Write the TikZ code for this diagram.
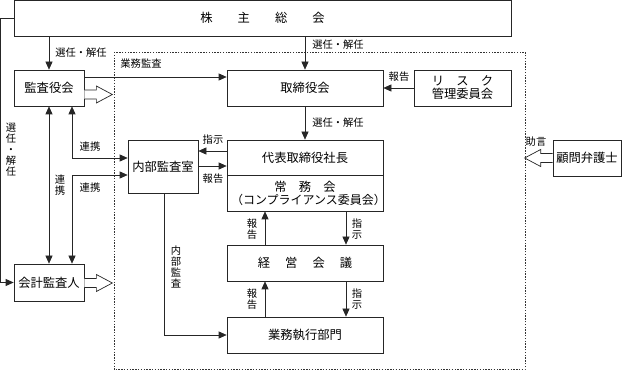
\documentclass[tikz,border=0pt]{standalone}
\usepackage{fontspec}
\setmainfont{Noto Sans CJK JP}
\usetikzlibrary{arrows.meta}
\begin{document}
\begin{tikzpicture}[x=1pt,y=-1pt,
  box/.style={draw=black!85,line width=0.7pt,fill=white,inner sep=0pt,align=center,
    font=\fontsize{12.3}{15}\selectfont},
  lbl/.style={inner sep=0pt,font=\fontsize{10.3}{11}\selectfont,align=center},
  arr/.style={draw=black!85,line width=0.7pt,-{Triangle[length=8pt,width=7pt]}},
  arrtwo/.style={draw=black!85,line width=0.7pt,{Triangle[length=8pt,width=7pt]}-{Triangle[length=8pt,width=7pt]}},
  hollowarrow/.pic={\draw[black!85,line width=0.7pt,fill=white]
     (0,-4.5) -- (12,-4.5) -- (12,-8.5) -- (28,0) -- (12,8.5) -- (12,4.5) -- (0,4.5);}
]
\useasboundingbox (0,0) rectangle (624,371);
% dashed area
\draw[black!80,line width=0.6pt,dash pattern=on 1.4pt off 1.4pt] (114,52) rectangle (525,369.5);

% boxes
\node[box,minimum width=497,minimum height=35.5] (soukai) at (262.5,18.25)
  {株\hspace{25pt}主\hspace{25pt}総\hspace{25pt}会};
\node[box,minimum width=70,minimum height=36] (kansa) at (49,88) {監査役会};
\node[box,minimum width=70,minimum height=37] (kaikei) at (49,282.5) {会計監査人};
\node[box,minimum width=156,minimum height=36] (torishimari) at (305,88) {取締役会};
\node[box,minimum width=97,minimum height=36] (risk) at (462.5,88) {リ　ス　ク\\[-2pt]管理委員会};
\node[box,minimum width=68,minimum height=36] (komon) at (587,158) {顧問弁護士};
\node[box,minimum width=156,minimum height=35] (daihyo) at (305,157.5) {代表取締役社長};
\node[box,minimum width=156,minimum height=36,text width=148pt] (jomu) at (305,193)
  {常　務　会\\[-2pt]{\fontsize{12}{15}\selectfont（コンプライアンス委員会）}};
\node[box,minimum width=70,minimum height=53] (naibu) at (163,166.5) {内部監査室};
\node[box,minimum width=156,minimum height=36] (keiei) at (305,263) {経\hspace{15pt}営\hspace{15pt}会\hspace{15pt}議};
\node[box,minimum width=156,minimum height=36] (gyomu) at (305,335) {業務執行部門};

% connectors
\draw[arr] (soukai.south -| kansa.north) -- (kansa.north);
\draw[arr] (soukai.south -| torishimari.north) -- (torishimari.north);
\draw[arr] (soukai.west) -- ++(-13,0) |- (kaikei.west);
\draw[arr] (kansa.east |- 0,77) -- (torishimari.west |- 0,77);
\draw[arr] (risk.west) -- (torishimari.east |- risk.west);
\draw[arr] (torishimari.south) -- (daihyo.north);
\draw[arr] (daihyo.west |- 0,151) -- (naibu.east |- 0,151);
\draw[arr] (naibu.east |- 0,166) -- (daihyo.west |- 0,166);
\draw[arrtwo] (kansa.south -| 72,0) |- (naibu.west |- 0,158);
\draw[arrtwo] (naibu.west |- 0,175) -| (kaikei.north -| 72,0);
\draw[arrtwo] (kansa.south) -- (kaikei.north);
\draw[arr] (keiei.north -| 265,0) -- (jomu.south -| 265,0);
\draw[arr] (jomu.south -| 346,0) -- (keiei.north -| 346,0);
\draw[arr] (gyomu.north -| 265,0) -- (keiei.south -| 265,0);
\draw[arr] (keiei.south -| 346,0) -- (gyomu.north -| 346,0);
\draw[arr] (naibu.south -| 164,0) |- (gyomu.west);

% hollow arrows
\pic at (kansa.east |- 0,94.5) {hollowarrow};
\pic at (kaikei.east |- 0,283) {hollowarrow};
\pic[xscale=-1] at (komon.west) {hollowarrow};

% labels
\node[lbl] (l1) at (81,53) {選任・解任};
\node[lbl] (l2) at (141,64) {業務監査};
\node[lbl] (l3) at (338,45) {選任・解任};
\node[lbl] (l4) at (399,77) {報告};
\node[lbl] (l5) at (338,123) {選任・解任};
\node[lbl] (l6) at (213,140) {指示};
\node[lbl] (l7) at (213,179) {報告};
\node[lbl] (l8) at (90,147) {連携};
\node[lbl] (l9) at (90,188) {連携};
\node[lbl] (l10) at (60,185) {連\\携};
\node[lbl] (l11) at (11,150) {選\\任\\・\\解\\任};
\node[lbl] (l12) at (252,229) {報\\告};
\node[lbl] (l13) at (357,229) {指\\示};
\node[lbl] (l14) at (252,299) {報\\告};
\node[lbl] (l15) at (357,299) {指\\示};
\node[lbl] (l16) at (176,267) {内\\部\\監\\査};
\node[lbl] (l17) at (536,142) {助言};
\end{tikzpicture}
\end{document}
